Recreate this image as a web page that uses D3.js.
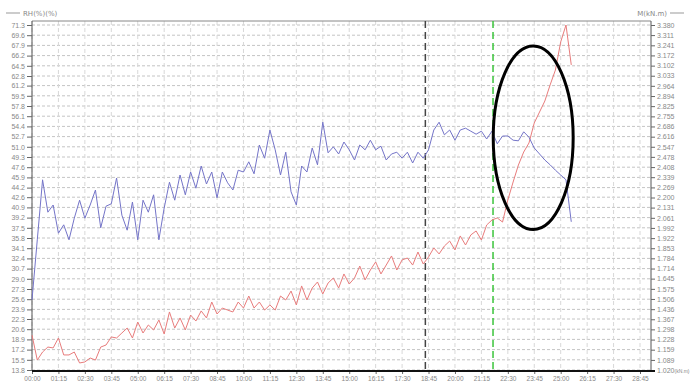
<!DOCTYPE html>
<html><head><meta charset="utf-8">
<script src="https://cdn.jsdelivr.net/npm/d3@7"></script>
<style>
html,body{margin:0;padding:0;background:#fff;}
svg{display:block;font-family:"DejaVu Sans",sans-serif;}
</style></head><body>
<svg id="c" width="691" height="385"></svg>
<script>
// ---- data ----
const stepHours = 0.25; // sampling interval (15 min)
const blueValues = [25.5,35.5,45.5,40.1,41.3,36.6,38.0,35.5,39.1,42.1,39.1,41.3,43.8,37.5,41.1,41.5,45.8,39.6,37.1,41.8,
35.5,42.1,40.1,43.0,35.5,40.8,45.1,42.1,46.3,43.0,46.8,44.1,47.8,44.8,46.8,42.5,46.8,45.0,43.8,47.1,
46.8,48.5,46.5,51.3,49.1,53.8,50.5,46.3,50.1,43.5,41.3,47.8,46.8,50.8,48.0,55.1,50.0,51.0,49.8,51.8,
50.5,48.8,51.3,50.5,52.1,50.5,51.1,48.8,49.8,50.1,49.1,50.1,48.3,50.1,49.1,50.5,53.8,55.1,53.0,53.8,
52.1,53.8,54.1,53.6,53.1,53.6,52.3,53.6,51.5,52.8,52.8,52.1,52.0,53.5,52.6,50.8,49.8,48.8,48.0,47.1,
46.3,45.5,38.5];
const redValues = [1.259,1.088,1.143,1.177,1.171,1.239,1.123,1.123,1.143,1.068,1.075,1.102,1.088,1.177,1.191,1.246,1.239,1.273,1.307,1.239,
1.348,1.273,1.328,1.294,1.362,1.266,1.417,1.307,1.376,1.294,1.396,1.355,1.424,1.376,1.485,1.403,1.444,1.430,1.417,1.485,
1.444,1.526,1.444,1.485,1.430,1.465,1.430,1.526,1.499,1.560,1.465,1.595,1.499,1.581,1.622,1.540,1.615,1.649,1.581,1.677,
1.608,1.649,1.731,1.636,1.704,1.759,1.677,1.738,1.800,1.704,1.773,1.786,1.738,1.827,1.745,1.793,1.855,1.814,1.868,1.902,
1.841,1.937,1.875,1.944,1.971,1.909,2.012,2.046,2.060,2.032,2.183,2.306,2.422,2.511,2.573,2.710,2.785,2.860,2.970,3.072,
3.264,3.380,3.107];
const leftTicks = [13.8,15.5,17.2,18.9,20.6,22.3,23.9,25.6,27.3,29.0,30.7,32.4,34.1,35.8,37.5,39.2,40.9,42.6,44.2,45.9,
47.6,49.3,51.0,52.7,54.4,56.1,57.8,59.5,61.2,62.8,64.5,66.2,67.9,69.6,71.3];
const rightTicks = [1.020,1.089,1.159,1.228,1.298,1.367,1.436,1.506,1.575,1.645,1.714,1.784,1.853,1.922,1.992,2.061,2.131,2.200,2.269,2.339,
2.408,2.478,2.547,2.616,2.686,2.755,2.825,2.894,2.964,3.033,3.102,3.172,3.241,3.311,3.380];
const xTickLabels = ["00:00","01:15","02:30","03:45","05:00","06:15","07:30","08:45","10:00","11:15","12:30","13:45",
"15:00","16:15","17:30","18:45","20:00","21:15","22:30","23:45","25:00","26:15","27:30","28:45"];
const xTickHours = [0,1.25,2.5,3.75,5,6.25,7.5,8.75,10,11.25,12.5,13.75,15,16.25,17.5,18.75,20,21.25,22.5,23.75,25,26.25,27.5,28.75];
const markerHours = [18.6, 21.8];           // black, green vertical markers
const ellipseCenter = {hours: 23.7, value: 52.5};
const ellipseHalf = {hours: 1.89, value: 15.3};
const leftLegend = "RH(%)(%)";
const rightLegend = "M(kN.m)";
const rightUnit = "(kN.m)";

// ---- layout ----
const L = 32, R = 651, T = 21, B = 371;
const svg = d3.select("#c");
const x = d3.scaleLinear().domain([0, 29.27]).range([L, R]);
const yL = d3.scaleLinear().domain([13.8, 71.3]).range([370, 25]);
const yR = d3.scaleLinear().domain([1.02, 3.38]).range([370, 25]);

// gridlines
svg.append("g").selectAll("line").data(leftTicks).join("line")
  .attr("x1", L).attr("x2", R).attr("y1", d => yL(d)).attr("y2", d => yL(d))
  .attr("stroke", "#c4c4c4").attr("stroke-width", 1).attr("stroke-dasharray", "3,2");
svg.append("g").selectAll("line").data(xTickHours).join("line")
  .attr("x1", d => x(d)).attr("x2", d => x(d)).attr("y1", T).attr("y2", B)
  .attr("stroke", "#d8d8d8").attr("stroke-width", 1).attr("stroke-dasharray", "4,3");

// frame
svg.append("line").attr("x1", L).attr("x2", R).attr("y1", T).attr("y2", T).attr("stroke", "#888");
svg.append("line").attr("x1", L).attr("x2", L).attr("y1", T).attr("y2", B).attr("stroke", "#555");
svg.append("line").attr("x1", R).attr("x2", R).attr("y1", T).attr("y2", B).attr("stroke", "#555");

// axes
const fmt1 = d3.format(".1f"), fmt3 = d3.format(".3f");
const gL = svg.append("g").attr("transform", `translate(${L},0)`)
  .call(d3.axisLeft(yL).tickValues(leftTicks).tickFormat(fmt1).tickSize(5).tickPadding(2));
const gR = svg.append("g").attr("transform", `translate(${R},0)`)
  .call(d3.axisRight(yR).tickValues(rightTicks).tickFormat(fmt3).tickSize(4).tickPadding(2));
const gX = svg.append("g").attr("transform", `translate(0,${B})`)
  .call(d3.axisBottom(x).tickValues(xTickHours).tickFormat((d, i) => xTickLabels[i]).tickSize(3).tickPadding(2));
[gL, gR, gX].forEach(g => {
  g.select(".domain").remove();
  g.selectAll("line").attr("stroke", "#666");
  g.selectAll("text").attr("fill", "#888").style("font-size", "7px");
});
gX.selectAll("text").style("font-size", "6.5px");
// unit appended to the lowest right tick label
gR.selectAll(".tick text").filter((d, i) => i === 0)
  .append("tspan").text(rightUnit).style("font-size", "5px");

// bottom thick line
svg.append("line").attr("x1", L).attr("x2", R + 4).attr("y1", B).attr("y2", B)
  .attr("stroke", "#111").attr("stroke-width", 2);

// markers
const markerColors = ["#444", "#3cc43c"];
svg.append("g").selectAll("line").data(markerHours).join("line")
  .attr("x1", d => x(d)).attr("x2", d => x(d)).attr("y1", T).attr("y2", B)
  .attr("stroke", (d, i) => markerColors[i]).attr("stroke-width", 1.5).attr("stroke-dasharray", "7,4");

// series
const lineL = d3.line().x((d, i) => x(i * stepHours)).y(d => yL(d));
const lineR = d3.line().x((d, i) => x(i * stepHours)).y(d => yR(d));
svg.append("path").attr("d", lineR(redValues)).attr("fill", "none").attr("stroke", "#e87c7c").attr("stroke-width", 1);
svg.append("path").attr("d", lineL(blueValues)).attr("fill", "none").attr("stroke", "#7474c8").attr("stroke-width", 1);

// ellipse
const cx = x(ellipseCenter.hours), cy = yL(ellipseCenter.value);
svg.append("ellipse").attr("cx", cx).attr("cy", cy)
  .attr("rx", x(ellipseCenter.hours + ellipseHalf.hours) - cx)
  .attr("ry", yL(ellipseCenter.value - ellipseHalf.value) - cy)
  .attr("fill", "none").attr("stroke", "#000").attr("stroke-width", 3);

// legends
svg.append("line").attr("x1", 6).attr("x2", 20).attr("y1", 13).attr("y2", 13).attr("stroke", "#999");
svg.append("text").attr("x", 23).attr("y", 15.5).text(leftLegend).attr("fill", "#888").style("font-size", "7px");
svg.append("line").attr("x1", 670).attr("x2", 684).attr("y1", 13).attr("y2", 13).attr("stroke", "#999");
svg.append("text").attr("x", 667).attr("y", 15.5).attr("text-anchor", "end").text(rightLegend).attr("fill", "#888").style("font-size", "7px");
</script>
</body></html>
